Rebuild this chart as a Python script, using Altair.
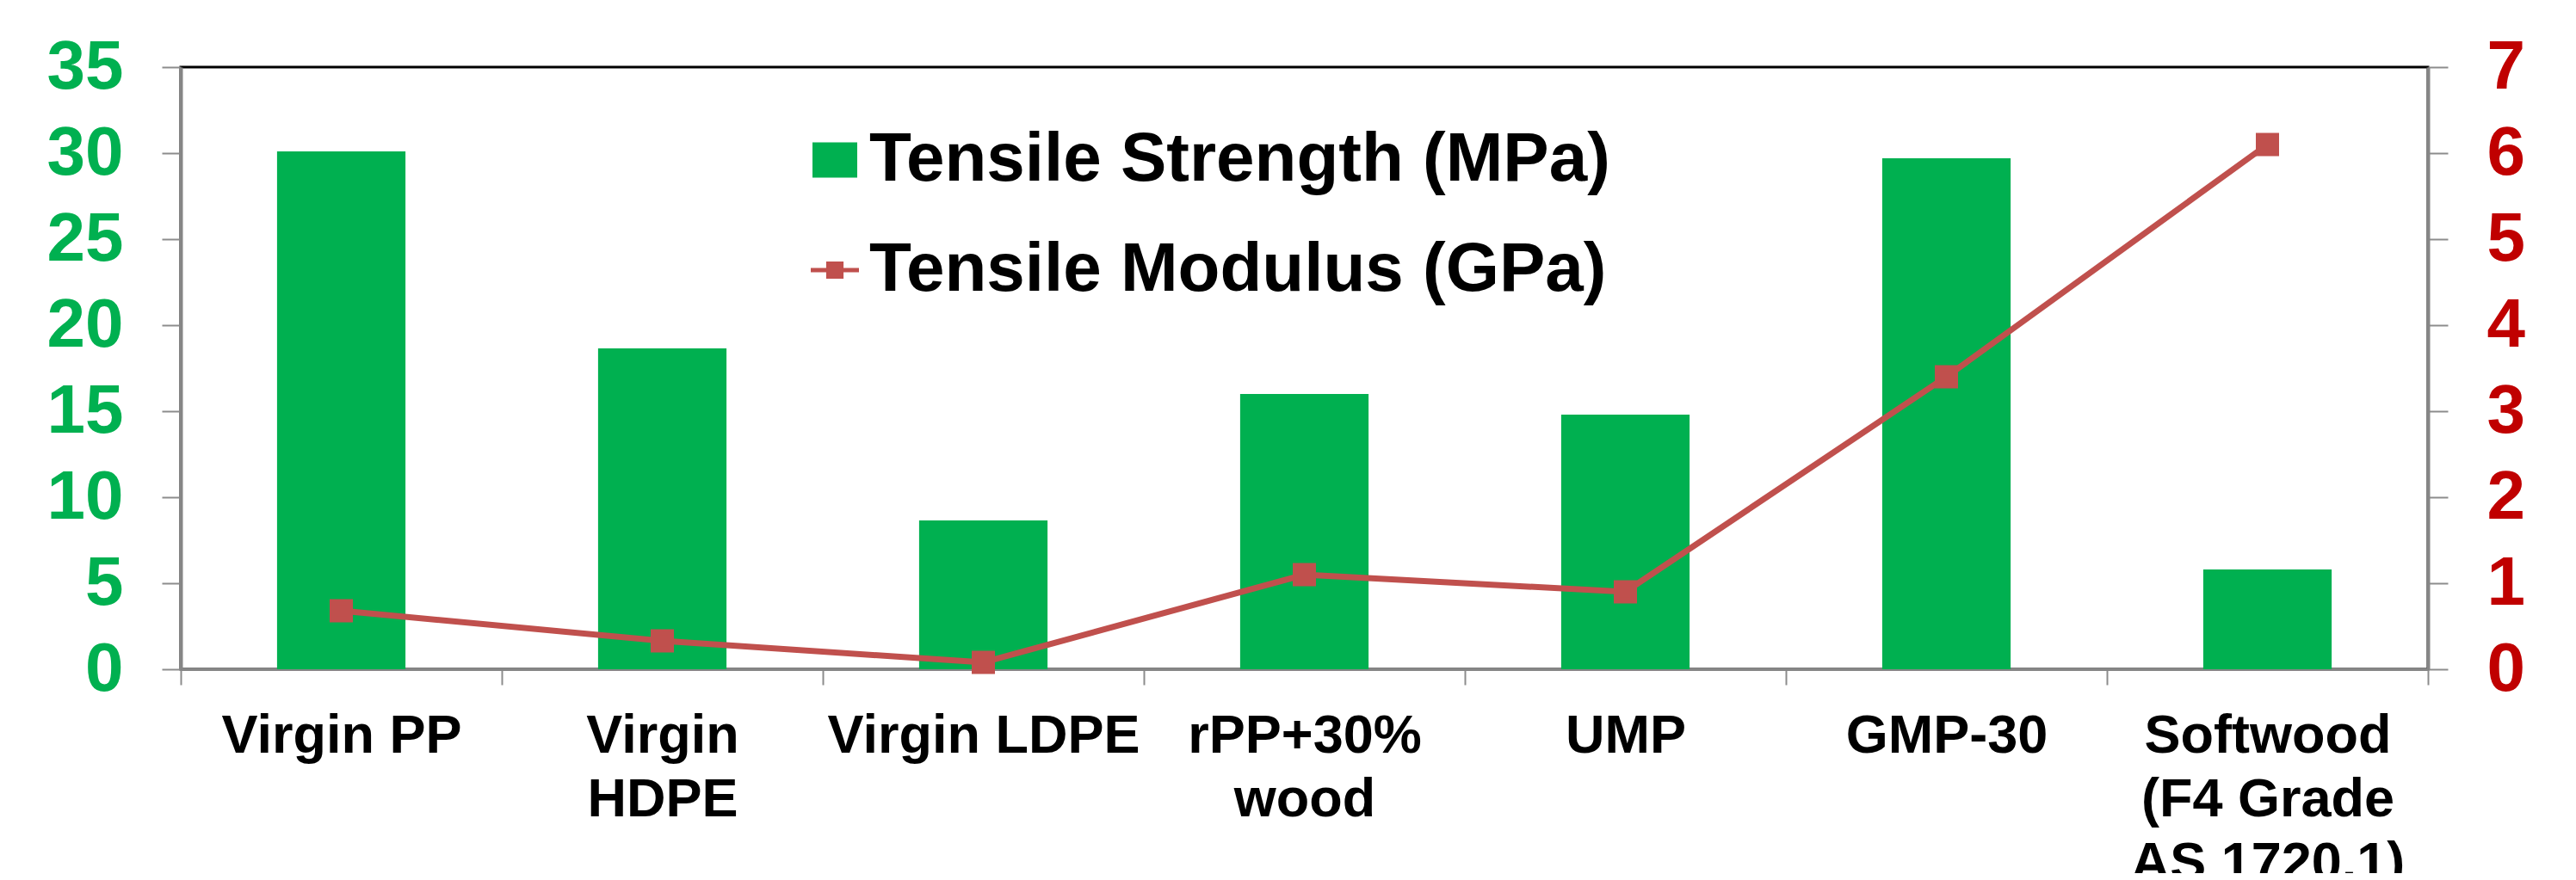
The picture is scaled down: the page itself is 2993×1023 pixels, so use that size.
import altair as alt
import pandas as pd

# ---- data ----
categories = ["Virgin PP", "Virgin|HDPE", "Virgin LDPE", "rPP+30%|wood", "UMP", "GMP-30",
              "Softwood|(F4 Grade|AS 1720.1)"]
tensile_strength = [30.1, 18.65, 8.65, 16.0, 14.8, 29.7, 5.8]   # MPa, left axis
tensile_modulus = [0.68, 0.33, 0.08, 1.1, 0.9, 3.4, 6.1]        # GPa, right axis
left_ticks = [0, 5, 10, 15, 20, 25, 30, 35]
right_ticks = [0, 1, 2, 3, 4, 5, 6, 7]
series_names = ["Tensile Strength (MPa)", "Tensile Modulus (GPa)"]

GREEN = "#00B050"
RED_LINE = "#C0504D"
RED_TEXT = "#C00000"
GREY = "#868686"
FONT = "Liberation Sans"

df = pd.DataFrame({"category": categories, "ts": tensile_strength, "tm": tensile_modulus})

RECT_PATH = "M-1.625,-1.28L1.625,-1.28L1.625,1.28L-1.625,1.28Z"
LINE_PATH = ("M-1.75,-0.16L1.75,-0.16L1.75,0.16L-1.75,0.16Z"
             "M-0.63,-0.63L0.63,-0.63L0.63,0.63L-0.63,0.63Z")

legend_common = dict(
    title=None,
    orient="none",
    padding=0,
    labelFont=FONT,
    labelFontSize=80,
    labelFontWeight="bold",
    labelColor="black",
    labelLimit=3000,
    labelOffset=0,
    symbolSize=1024,
    symbolStrokeWidth=0,
)

x_enc = alt.X(
    "category:N",
    sort=categories,
    scale=alt.Scale(paddingInner=0, paddingOuter=0),
    axis=alt.Axis(
        title=None,
        labelExpr="split(datum.label, '|')",
        labelAngle=0,
        labelFont=FONT,
        labelFontSize=63,
        labelFontWeight="bold",
        labelColor="black",
        labelLineHeight=74,
        labelLimit=3000,
        labelPadding=28,
        labelBaseline="top",
        tickBand="extent",
        tickSize=18,
        tickColor="#8C8C8C",
        tickWidth=2,
        domainColor=GREY,
        domainWidth=3,
        grid=False,
    ),
)

bars = (
    alt.Chart(df)
    .transform_calculate(series="'" + series_names[0] + "'")
    .mark_bar(width={"band": 0.4})
    .encode(
        x=x_enc,
        y=alt.Y(
            "ts:Q",
            scale=alt.Scale(domain=[0, 35], nice=False, zero=True),
            axis=alt.Axis(
                orient="left",
                title=None,
                values=left_ticks,
                labelFont=FONT,
                labelFontSize=80,
                labelFontWeight="bold",
                labelColor=GREEN,
                labelPadding=45,
                tickSize=22,
                tickColor="#8C8C8C",
                tickWidth=2,
                domainColor=GREY,
                domainWidth=4,
                grid=False,
            ),
        ),
        color=alt.Color(
            "series:N",
            scale=alt.Scale(domain=[series_names[0]], range=[GREEN]),
            legend=alt.Legend(legendX=720, legendY=68, symbolType=RECT_PATH, **legend_common),
        ),
    )
)

line = (
    alt.Chart(df)
    .transform_calculate(series2="'" + series_names[1] + "'")
    .mark_line(
        strokeWidth=7,
        point=alt.OverlayMarkDef(shape="square", size=400, filled=True, color=RED_LINE,
                                 fill=RED_LINE, opacity=1, strokeWidth=0),
    )
    .encode(
        x=x_enc,
        y=alt.Y(
            "tm:Q",
            scale=alt.Scale(domain=[0, 7], nice=False, zero=True),
            axis=alt.Axis(
                orient="right",
                title=None,
                values=right_ticks,
                labelFont=FONT,
                labelFontSize=80,
                labelFontWeight="bold",
                labelColor=RED_TEXT,
                labelPadding=45,
                tickSize=23,
                tickColor="#8C8C8C",
                tickWidth=2,
                domainColor=GREY,
                domainWidth=4,
                grid=False,
            ),
        ),
        stroke=alt.Stroke(
            "series2:N",
            scale=alt.Scale(domain=[series_names[1]], range=[RED_LINE]),
            legend=alt.Legend(legendX=720, legendY=196, symbolType=LINE_PATH,
                              symbolFillColor=RED_LINE, **legend_common),
        ),
        strokeWidth=alt.value(7),
    )
)

chart = (
    alt.layer(bars, line)
    .resolve_scale(y="independent")
    .properties(
        width=2611,
        height=700,
        autosize=alt.AutoSizeParams(type="none"),
        padding={"left": 202, "top": 70, "right": 164, "bottom": 237},
        background="white",
    )
    .configure_view(stroke="black", strokeWidth=3)
)

chart.save("out.html", embed_options={"renderer": "svg", "actions": False})
